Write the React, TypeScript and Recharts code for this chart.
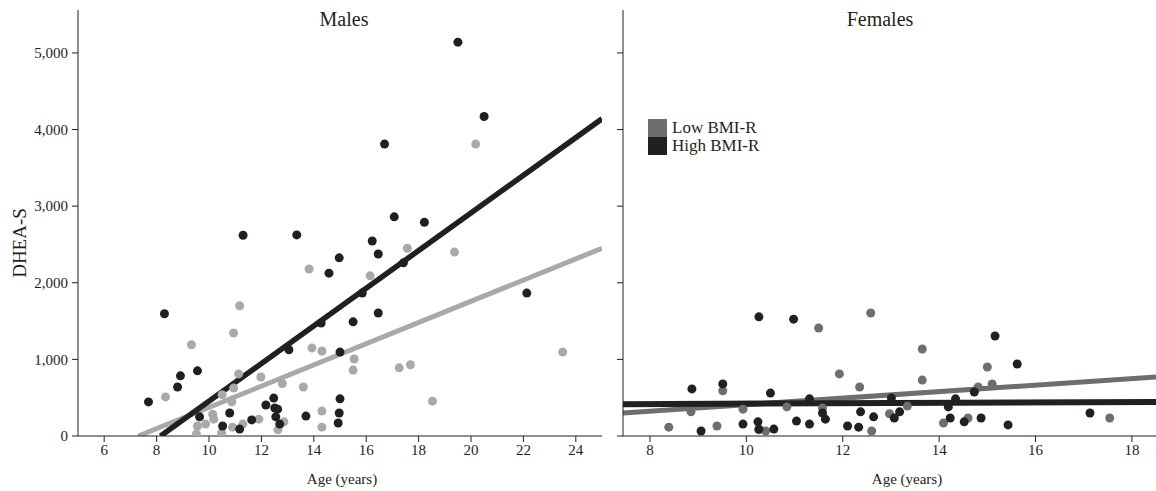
import { ComposedChart, Scatter, Line, XAxis, YAxis } from "recharts";

const maleAgeTicks = [6, 8, 10, 12, 14, 16, 18, 20, 22, 24];
const femaleAgeTicks = [8, 10, 12, 14, 16, 18];
const dheaTicks = [0, 1000, 2000, 3000, 4000, 5000];

const maleLowBmi = [
  { age: 13.82, v: 2180 }, { age: 17.57, v: 2450 }, { age: 19.37, v: 2400 },
  { age: 16.15, v: 2090 }, { age: 20.18, v: 3810 }, { age: 13.93, v: 1150 },
  { age: 14.31, v: 1110 }, { age: 15.54, v: 1005 }, { age: 15.5, v: 860 },
  { age: 17.26, v: 890 }, { age: 17.69, v: 930 }, { age: 23.5, v: 1095 },
  { age: 13.6, v: 640 }, { age: 18.53, v: 455 }, { age: 14.31, v: 325 },
  { age: 14.31, v: 115 }, { age: 11.17, v: 1700 }, { age: 10.94, v: 1345 },
  { age: 9.33, v: 1190 }, { age: 8.34, v: 510 }, { age: 11.13, v: 810 },
  { age: 11.98, v: 770 }, { age: 12.8, v: 685 }, { age: 10.94, v: 625 },
  { age: 10.87, v: 445 }, { age: 10.5, v: 540 }, { age: 10.14, v: 285 },
  { age: 10.18, v: 220 }, { age: 9.87, v: 155 }, { age: 9.56, v: 130 },
  { age: 9.52, v: 25 }, { age: 10.48, v: 40 }, { age: 10.9, v: 115 },
  { age: 11.29, v: 155 }, { age: 11.9, v: 220 }, { age: 12.86, v: 185 },
  { age: 12.63, v: 80 },
];

const maleHighBmi = [
  { age: 19.5, v: 5140 }, { age: 20.5, v: 4170 }, { age: 16.7, v: 3810 },
  { age: 13.35, v: 2625 }, { age: 11.3, v: 2620 }, { age: 17.07, v: 2860 },
  { age: 18.22, v: 2790 }, { age: 16.23, v: 2545 }, { age: 16.46, v: 2375 },
  { age: 14.97, v: 2325 }, { age: 14.58, v: 2125 }, { age: 17.42, v: 2260 },
  { age: 15.85, v: 1865 }, { age: 14.28, v: 1475 }, { age: 15.5, v: 1490 },
  { age: 16.46, v: 1605 }, { age: 22.13, v: 1865 }, { age: 13.05, v: 1125 },
  { age: 15.0, v: 1095 }, { age: 15.0, v: 485 }, { age: 13.7, v: 260 },
  { age: 14.97, v: 300 }, { age: 14.93, v: 170 }, { age: 8.3, v: 1595 },
  { age: 9.56, v: 850 }, { age: 8.91, v: 785 }, { age: 8.8, v: 640 },
  { age: 7.69, v: 445 }, { age: 12.47, v: 495 }, { age: 12.17, v: 405 },
  { age: 12.51, v: 365 }, { age: 12.62, v: 350 }, { age: 12.55, v: 250 },
  { age: 12.7, v: 155 }, { age: 11.63, v: 210 }, { age: 10.79, v: 300 },
  { age: 9.64, v: 250 }, { age: 10.52, v: 130 }, { age: 11.17, v: 90 },
];

const femaleLowBmi = [
  { age: 11.5, v: 1410 }, { age: 12.58, v: 1605 }, { age: 11.93, v: 810 },
  { age: 12.35, v: 640 }, { age: 9.51, v: 590 }, { age: 8.85, v: 315 },
  { age: 9.93, v: 350 }, { age: 10.84, v: 380 }, { age: 11.58, v: 365 },
  { age: 12.97, v: 290 }, { age: 8.39, v: 115 }, { age: 9.39, v: 130 },
  { age: 10.26, v: 80 }, { age: 10.4, v: 65 }, { age: 12.6, v: 65 },
  { age: 13.65, v: 1135 }, { age: 15.0, v: 900 }, { age: 13.65, v: 730 },
  { age: 15.1, v: 680 }, { age: 14.81, v: 640 }, { age: 13.34, v: 390 },
  { age: 14.6, v: 235 }, { age: 14.09, v: 170 }, { age: 17.54, v: 235 },
];

const femaleHighBmi = [
  { age: 10.26, v: 1555 }, { age: 10.98, v: 1525 }, { age: 8.87, v: 615 },
  { age: 9.51, v: 680 }, { age: 10.5, v: 560 }, { age: 11.31, v: 485 },
  { age: 11.58, v: 300 }, { age: 11.64, v: 220 }, { age: 12.37, v: 315 },
  { age: 12.64, v: 250 }, { age: 9.06, v: 65 }, { age: 9.93, v: 155 },
  { age: 10.24, v: 185 }, { age: 10.26, v: 90 }, { age: 10.57, v: 90 },
  { age: 11.04, v: 195 }, { age: 11.31, v: 155 }, { age: 12.1, v: 130 },
  { age: 12.33, v: 115 }, { age: 15.16, v: 1305 }, { age: 15.62, v: 940 },
  { age: 14.73, v: 575 }, { age: 14.34, v: 485 }, { age: 13.01, v: 495 },
  { age: 14.19, v: 380 }, { age: 13.18, v: 315 }, { age: 13.07, v: 235 },
  { age: 14.23, v: 235 }, { age: 14.87, v: 235 }, { age: 14.52, v: 185 },
  { age: 15.43, v: 145 }, { age: 17.13, v: 300 },
];

// regression lines at their ends
const maleLowFit = [{ age: 7.3, v: 0 }, { age: 25, v: 2450 }];
const maleHighFit = [{ age: 8.15, v: 0 }, { age: 25, v: 4140 }];
const femaleLowFit = [{ age: 7.44, v: 300 }, { age: 18.5, v: 770 }];
const femaleHighFit = [{ age: 7.44, v: 415 }, { age: 18.5, v: 445 }];

const legendItems = ["Low BMI-R", "High BMI-R"];

const INK = "#231f20";
const LIGHT = "#a7a9ac";
const MID = "#6d6e71";
const FONT = "'Liberation Serif', 'Times New Roman', serif";

const dot = (fill: string) => (p: any) => (
  <circle cx={p.cx} cy={p.cy} r={4.5} fill={fill} />
);

const tickStyle = { fontSize: 15, fill: INK, fontFamily: FONT };
const fmt = (v: number) => v.toLocaleString("en-US");

function LegendBox() {
  const colors = [MID, INK];
  return (
    <div
      style={{
        position: "absolute",
        left: 648,
        top: 119,
        fontFamily: FONT,
        fontSize: 17,
        color: INK,
        lineHeight: "18px",
      }}
    >
      {legendItems.map((name, i) => (
        <div key={name} style={{ display: "flex", alignItems: "center", height: 18 }}>
          <span style={{ width: 19, height: 18, background: colors[i], marginRight: 5 }} />
          <span style={{ lineHeight: "18px" }}>{name}</span>
        </div>
      ))}
    </div>
  );
}

const label = (text: string, x: number, y: number, size: number, rotate = false) => (
  <div
    style={{
      position: "absolute",
      left: x,
      top: y,
      transform: `translate(-50%, -50%)${rotate ? " rotate(-90deg)" : ""}`,
      fontFamily: FONT,
      fontSize: size,
      color: INK,
      whiteSpace: "nowrap",
    }}
  >
    {text}
  </div>
);

export default function App() {
  return (
    <div style={{ position: "absolute", left: 0, top: 0, width: 1156, height: 491, background: "#fff" }}>
      <div style={{ position: "absolute", left: 0, top: 0 }}>
        <ComposedChart width={610} height={491} margin={{ top: 10, right: 8, bottom: 25, left: 0 }}>
          <XAxis
            type="number"
            dataKey="age"
            domain={[5, 25]}
            ticks={maleAgeTicks}
            allowDataOverflow
            height={30}
            stroke={INK}
            tickSize={6}
            tick={tickStyle}
          />
          <YAxis
            type="number"
            dataKey="v"
            domain={[0, 5560]}
            ticks={dheaTicks}
            allowDataOverflow
            width={78}
            stroke={INK}
            tickSize={6}
            tickMargin={4}
            tick={tickStyle}
            tickFormatter={fmt}
          />
          <Scatter data={maleLowBmi} dataKey="v" shape={dot(LIGHT)} isAnimationActive={false} />
          <Scatter data={maleHighBmi} dataKey="v" shape={dot(INK)} isAnimationActive={false} />
          <Line data={maleLowFit} dataKey="v" stroke={LIGHT} strokeWidth={5} dot={false} isAnimationActive={false} />
          <Line data={maleHighFit} dataKey="v" stroke={INK} strokeWidth={5.5} dot={false} isAnimationActive={false} />
        </ComposedChart>
      </div>
      <div style={{ position: "absolute", left: 545, top: 0 }}>
        <ComposedChart width={611} height={491} margin={{ top: 10, right: 0, bottom: 25, left: 0 }}>
          <XAxis
            type="number"
            dataKey="age"
            domain={[7.44, 18.5]}
            ticks={femaleAgeTicks}
            allowDataOverflow
            height={30}
            stroke={INK}
            tickSize={6}
            tick={tickStyle}
          />
          <YAxis
            type="number"
            dataKey="v"
            domain={[0, 5560]}
            ticks={dheaTicks}
            allowDataOverflow
            width={78}
            stroke={INK}
            tickSize={6}
            tick={tickStyle}
            tickFormatter={() => ""}
          />
          <Scatter data={femaleLowBmi} dataKey="v" shape={dot(MID)} isAnimationActive={false} />
          <Scatter data={femaleHighBmi} dataKey="v" shape={dot(INK)} isAnimationActive={false} />
          <Line data={femaleLowFit} dataKey="v" stroke={MID} strokeWidth={5} dot={false} isAnimationActive={false} />
          <Line data={femaleHighFit} dataKey="v" stroke={INK} strokeWidth={6} dot={false} isAnimationActive={false} />
        </ComposedChart>
      </div>
      <LegendBox />
      {label("Males", 344, 19, 20)}
      {label("Females", 880, 19, 20)}
      {label("DHEA-S", 20, 243, 19, true)}
      {label("Age (years)", 342, 479, 15)}
      {label("Age (years)", 907, 479, 15)}
    </div>
  );
}
